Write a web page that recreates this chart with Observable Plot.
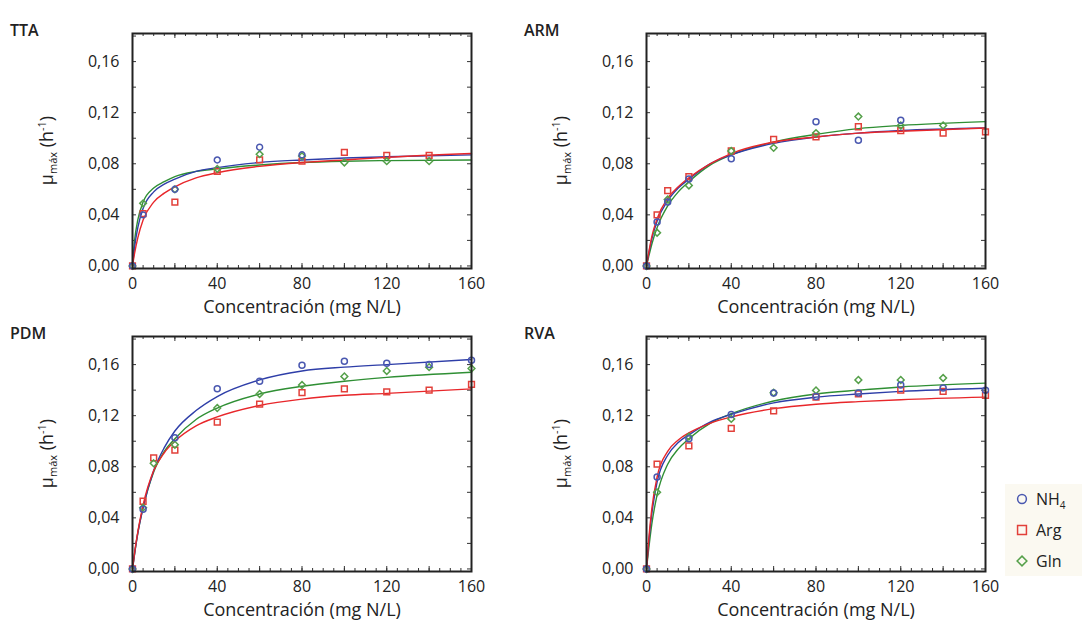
<!DOCTYPE html>
<html><head><meta charset="utf-8">
<script src="https://cdn.jsdelivr.net/npm/d3@7"></script>
<script src="https://cdn.jsdelivr.net/npm/@observablehq/plot@0.6"></script>
<style>
body{margin:0;background:#fff;font-family:"Open Sans",sans-serif;}
#wrap{position:relative;width:1082px;height:626px;overflow:hidden;background:#fff}
.panel{position:absolute}
</style></head><body><div id="wrap"></div>
<script>
// ---------- data ----------
const panelNames = ["TTA", "ARM", "PDM", "RVA"];
const seriesNames = ["NH4", "Arg", "Gln"];
const conc = [0, 5, 10, 20, 40, 60, 80, 100, 120, 140, 160];                    // measured concentrations (mg N/L)
const fitConc = [0, 1, 2.5, 5, 10, 15, 20, 30, 40, 60, 80, 100, 120, 160];     // where fitted curves were read

// measured µmax (h-1), aligned with conc (null = no marker visible)
const TTA_NH4 = [0, 0.040, null, 0.060, 0.083, 0.093, 0.087, null, null, null, null];
const TTA_Arg = [0, 0.041, null, 0.050, 0.074, 0.083, 0.082, 0.089, 0.0865, 0.0865, null];
const TTA_Gln = [0, 0.049, null, 0.060, 0.076, 0.0875, 0.086, 0.081, 0.082, 0.082, null];

const ARM_NH4 = [0, 0.0345, 0.050, 0.068, 0.084, null, 0.113, 0.0985, 0.114, null, null];
const ARM_Arg = [0, 0.040, 0.059, 0.070, 0.090, 0.099, 0.101, 0.109, 0.106, 0.104, 0.105];
const ARM_Gln = [0, 0.026, 0.052, 0.063, 0.090, 0.0925, 0.104, 0.117, 0.110, 0.110, null];

const PDM_NH4 = [0, 0.0467, null, 0.1027, 0.141, 0.147, 0.1595, 0.1627, 0.161, 0.160, 0.1635];
const PDM_Arg = [0, 0.053, 0.087, 0.093, 0.115, 0.129, 0.138, 0.141, 0.1387, 0.140, 0.1445];
const PDM_Gln = [0, 0.048, 0.0827, 0.0973, 0.126, 0.137, 0.144, 0.1507, 0.155, 0.158, 0.157];

const RVA_NH4 = [0, 0.072, null, 0.102, 0.121, 0.1377, 0.135, 0.1377, 0.144, 0.1416, 0.140];
const RVA_Arg = [0, 0.082, null, 0.0963, 0.110, 0.1238, 0.1346, 0.137, 0.140, 0.139, 0.136];
const RVA_Gln = [0, 0.060, null, 0.1036, 0.1175, 0.138, 0.1398, 0.148, 0.148, 0.1495, null];

// fitted curves, aligned with fitConc
const TTA_NH4_fit = [0, 0.015, 0.030, 0.045, 0.058, 0.064, 0.068, 0.074, 0.077, 0.081, 0.083, 0.0845, 0.0855, 0.087];
const TTA_Arg_fit = [0, 0.010, 0.022, 0.036, 0.050, 0.057, 0.062, 0.069, 0.073, 0.078, 0.081, 0.083, 0.085, 0.088];
const TTA_Gln_fit = [0, 0.020, 0.036, 0.050, 0.061, 0.066, 0.070, 0.074, 0.076, 0.079, 0.081, 0.082, 0.0825, 0.083];

const ARM_NH4_fit = [0, 0.009, 0.021, 0.035, 0.051, 0.061, 0.068, 0.080, 0.087, 0.096, 0.101, 0.104, 0.106, 0.108];
const ARM_Arg_fit = [0, 0.010, 0.023, 0.037, 0.053, 0.062, 0.069, 0.080, 0.088, 0.097, 0.101, 0.104, 0.1055, 0.108];
const ARM_Gln_fit = [0, 0.007, 0.017, 0.030, 0.047, 0.058, 0.066, 0.079, 0.087, 0.097, 0.103, 0.1075, 0.110, 0.113];

const PDM_NH4_fit = [0, 0.012, 0.028, 0.048, 0.077, 0.095, 0.108, 0.124, 0.135, 0.148, 0.155, 0.158, 0.160, 0.164];
const PDM_Arg_fit = [0, 0.013, 0.029, 0.050, 0.077, 0.091, 0.100, 0.112, 0.119, 0.128, 0.133, 0.136, 0.1375, 0.141];
const PDM_Gln_fit = [0, 0.012, 0.028, 0.048, 0.076, 0.092, 0.102, 0.117, 0.126, 0.137, 0.143, 0.147, 0.150, 0.154];

const RVA_NH4_fit = [0, 0.020, 0.043, 0.068, 0.089, 0.099, 0.105, 0.115, 0.121, 0.130, 0.1345, 0.137, 0.139, 0.1415];
const RVA_Arg_fit = [0, 0.022, 0.047, 0.072, 0.092, 0.101, 0.1065, 0.114, 0.119, 0.1255, 0.129, 0.131, 0.1325, 0.1345];
const RVA_Gln_fit = [0, 0.015, 0.035, 0.058, 0.082, 0.094, 0.102, 0.114, 0.1215, 0.1315, 0.137, 0.140, 0.1425, 0.1455];

// axis ticks / labels
const xTicks = [0, 40, 80, 120, 160];
const yTicks = [0, 0.04, 0.08, 0.12, 0.16];
const xTitle = "Concentración (mg N/L)";

// ---------- styling ----------
const pointColor = {NH4: "#4a58b0", Arg: "#e2403a", Gln: "#55a04a"};
const lineColor  = {NH4: "#2e3ea8", Arg: "#e8262a", Gln: "#2f8f34"};
const symbols = ["circle", "square", "diamond2"];
const radius = {NH4: 5.4, Arg: 6.4, Gln: 5.6};
const FONT = '"Open Sans", "DejaVu Sans", sans-serif';

const panels = [
  {name: "TTA", pts: [TTA_NH4, TTA_Arg, TTA_Gln], fits: [TTA_NH4_fit, TTA_Arg_fit, TTA_Gln_fit], left: 0, top: 0},
  {name: "ARM", pts: [ARM_NH4, ARM_Arg, ARM_Gln], fits: [ARM_NH4_fit, ARM_Arg_fit, ARM_Gln_fit], left: 514, top: 0},
  {name: "PDM", pts: [PDM_NH4, PDM_Arg, PDM_Gln], fits: [PDM_NH4_fit, PDM_Arg_fit, PDM_Gln_fit], left: 0, top: 303},
  {name: "RVA", pts: [RVA_NH4, RVA_Arg, RVA_Gln], fits: [RVA_NH4_fit, RVA_Arg_fit, RVA_Gln_fit], left: 514, top: 303}
];

const W = 541, H = 320, mt = 33, mb = 52, ml = 132, mr = 70;
const fh = H - mt - mb, fw = W - ml - mr;
const xMinor = d3.range(0, 161, 5);
const xMajor = d3.range(0, 161, 20);
const yMinor = d3.range(0, 0.181, 0.02);

const wrap = document.getElementById("wrap");

for (const P of panels) {
  const points = [];
  seriesNames.forEach((s, i) => conc.forEach((c, j) => {
    const v = P.pts[i][j];
    if (v != null) points.push({x: c, y: v, s});
  }));
  const curves = [];
  ["Gln", "NH4", "Arg"].forEach(s => {
    const i = seriesNames.indexOf(s);
    fitConc.forEach((c, j) => curves.push({x: c, y: P.fits[i][j], s}));
  });

  const svg = Plot.plot({
    width: W, height: H, marginTop: mt, marginBottom: mb, marginLeft: ml, marginRight: mr,
    style: {fontFamily: FONT, fontSize: "16px", color: "#222", background: "transparent", overflow: "visible"},
    x: {domain: [0, 160]},
    y: {domain: [-0.002, 0.182]},
    color: {type: "identity"},
    symbol: {domain: seriesNames, range: symbols},
    marks: [
      // inward ticks on all four sides
      Plot.tickX(xMinor, {x: d => d, insetTop: fh - 3, stroke: "#333"}),
      Plot.tickX(xMajor, {x: d => d, insetTop: fh - 5, stroke: "#333"}),
      Plot.tickX(xMinor, {x: d => d, insetBottom: fh - 3, stroke: "#333"}),
      Plot.tickX(xMajor, {x: d => d, insetBottom: fh - 5, stroke: "#333"}),
      Plot.tickY(yMinor, {y: d => d, insetRight: fw - 4, stroke: "#333"}),
      Plot.tickY(yMinor, {y: d => d, insetLeft: fw - 4, stroke: "#333"}),
      Plot.line(curves, {x: "x", y: "y", z: "s", stroke: d => lineColor[d.s], strokeWidth: 1.4, curve: "monotone-x"}),
      Plot.dot(points, {x: "x", y: "y", symbol: "s", stroke: d => pointColor[d.s], fill: "none", strokeWidth: 1.5,
        r: d => radius[d.s]}),
      Plot.frame({stroke: "#222", strokeWidth: 2}),
      Plot.axisX({ticks: xTicks, tickSize: 0, tickPadding: 9, label: null, fontSize: 16}),
      Plot.axisY({ticks: yTicks, tickSize: 0, tickPadding: 13, label: null, fontSize: 16,
        tickFormat: d => d.toFixed(2).replace(".", ",")}),
      Plot.text([xTitle], {text: d => d, frameAnchor: "bottom", dy: 39, fontSize: 18, lineAnchor: "middle"})
    ]
  });

  const sel = d3.select(svg);
  sel.append("text").attr("x", 10).attr("y", mt + 3)
    .attr("text-anchor", "start")
    .attr("font-family", FONT).attr("font-size", 16).attr("font-weight", 600).attr("fill", "#222")
    .text(P.name);
  const yl = sel.append("text")
    .attr("transform", `translate(${53},${mt + fh / 2}) rotate(-90)`)
    .attr("text-anchor", "middle").attr("font-family", FONT).attr("fill", "#222").attr("font-size", 18);
  yl.append("tspan").text("µ");
  yl.append("tspan").attr("font-size", 11).attr("dy", 4).text("máx");
  yl.append("tspan").attr("dy", -4).text(" (h");
  yl.append("tspan").attr("font-size", 11).attr("dy", -7).text("-1");
  yl.append("tspan").attr("dy", 7).text(")");

  const div = document.createElement("div");
  div.className = "panel";
  div.style.left = P.left + "px";
  div.style.top = P.top + "px";
  div.appendChild(svg);
  wrap.appendChild(div);
}

// ---------- legend ----------
const legendLabels = [["NH", "4"], ["Arg", ""], ["Gln", ""]];
const lg = d3.select(wrap).append("svg")
  .attr("width", 77).attr("height", 92)
  .style("position", "absolute").style("left", "1005px").style("top", "484px");
lg.append("rect").attr("width", 77).attr("height", 92).attr("fill", "#fbf9f1");
seriesNames.forEach((s, i) => {
  const cy = 15 + i * 31;
  const type = [d3.symbolCircle, d3.symbolSquare, d3.symbolDiamond2][i];
  const size = [Math.PI * 4.4 * 4.4, Math.PI * 5 * 5, Math.PI * 4.4 * 4.4][i];
  lg.append("path").attr("d", d3.symbol(type, size)())
    .attr("transform", `translate(17,${cy})`)
    .attr("fill", "none").attr("stroke", pointColor[s]).attr("stroke-width", 1.5);
  const t = lg.append("text").attr("x", 31).attr("y", cy + 6)
    .attr("font-family", FONT).attr("font-size", 16).attr("fill", "#222");
  t.append("tspan").text(legendLabels[i][0]);
  if (legendLabels[i][1]) t.append("tspan").attr("font-size", 10).attr("dy", 4).text(legendLabels[i][1]);
});
</script>
</body></html>
